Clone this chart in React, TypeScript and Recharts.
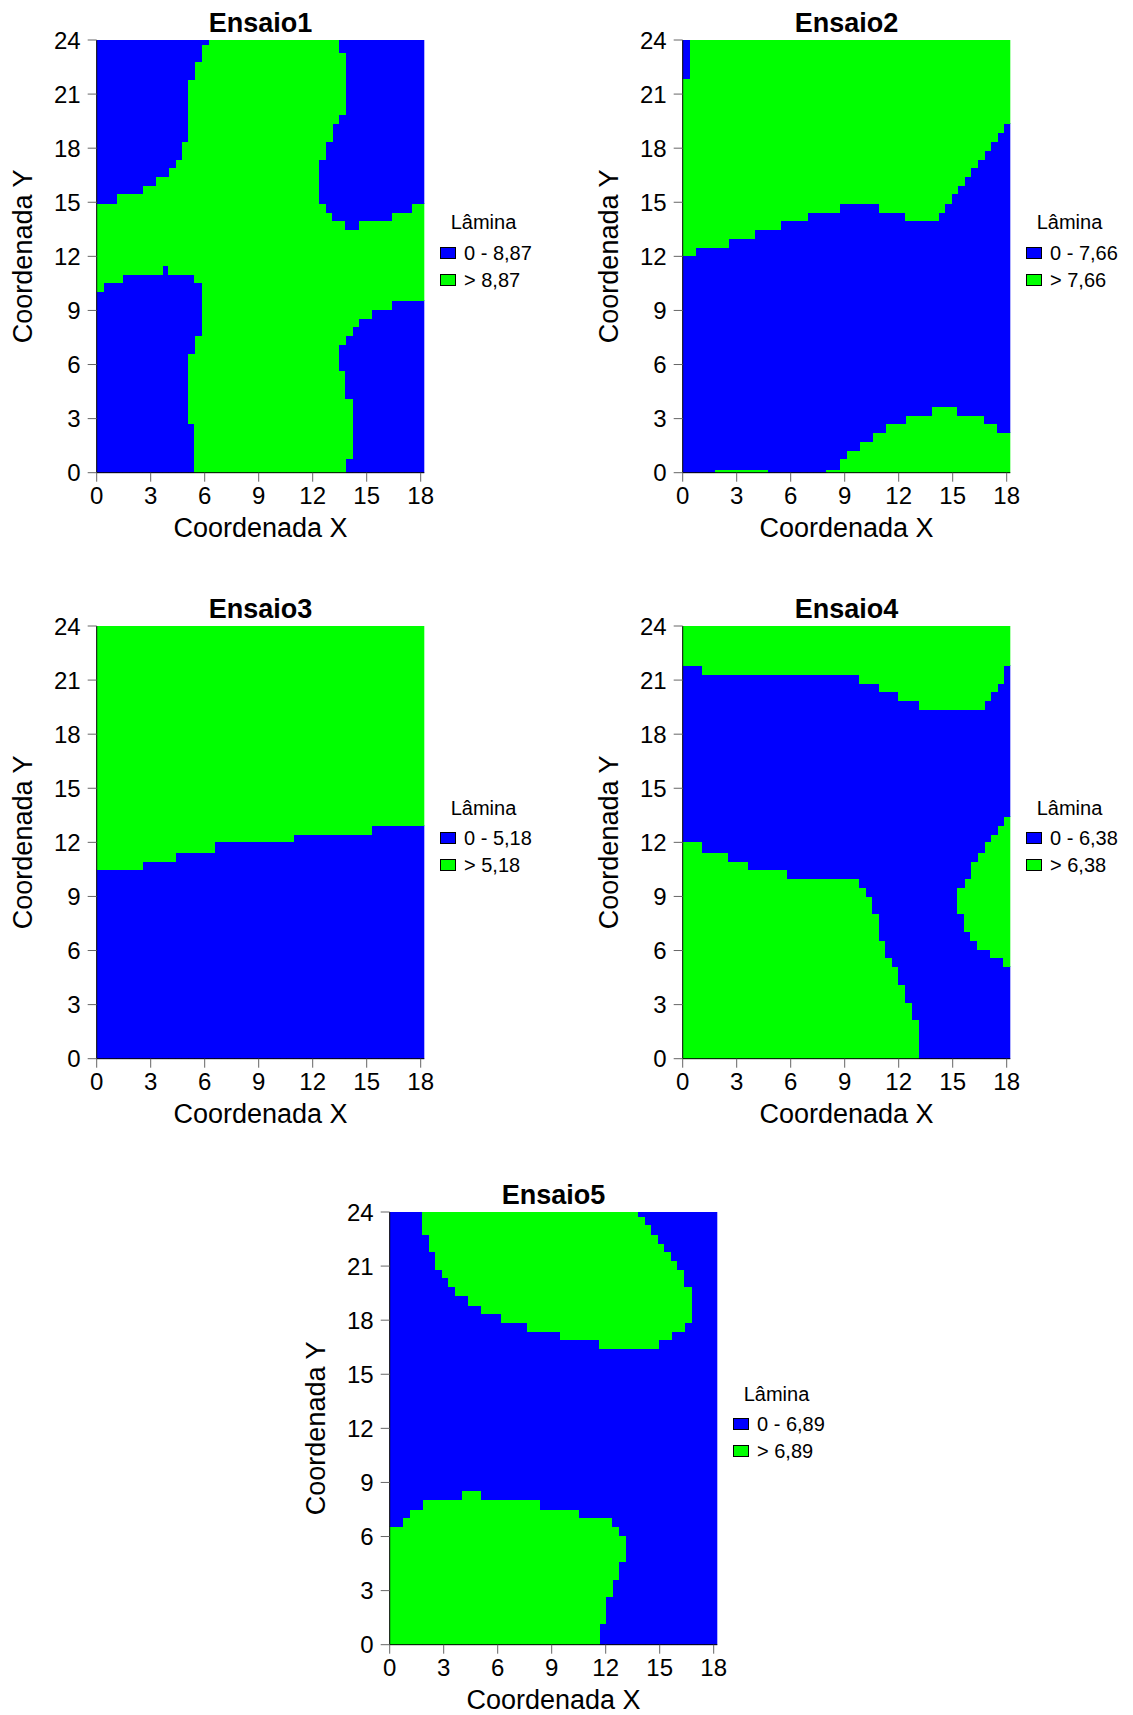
import React from 'react';
import { BarChart, Bar, XAxis, YAxis } from 'recharts';

const BLUE = '#0000ff';
const GREEN = '#00ff00';
const FONT = '"Liberation Sans", Arial, Helvetica, sans-serif';

const CELL = 0.364; // width of one raster column, in X units (50 columns span 0 - 18.2)
const X_TICKS = [0, 3, 6, 9, 12, 15, 18];
const Y_TICKS = [0, 3, 6, 9, 12, 15, 18, 21, 24];

const TITLES = ['Ensaio1', 'Ensaio2', 'Ensaio3', 'Ensaio4', 'Ensaio5'];
const LIMITS = ['8,87', '7,66', '5,18', '6,38', '6,89'];

// one entry per column: Y values where the class flips, starting with blue at Y = 0
const ensaio1 = [
  [10.06, 14.93], [10.54, 14.93], [10.54, 14.93], [10.54, 15.46], [11.02, 15.46],
  [11.02, 15.46], [11.02, 15.46], [11.02, 15.93], [11.02, 15.93], [11.02, 16.41],
  [11.5, 16.41], [11.02, 16.91], [11.02, 17.37], [11.02, 18.37], [2.74, 6.59, 11.02, 21.81],
  [0, 7.59, 10.54, 22.78], [0, 23.76], [0], [0], [0],
  [0], [0], [0], [0], [0],
  [0], [0], [0], [0], [0],
  [0], [0], [0], [0], [0, 14.93, 17.37],
  [0, 14.44, 18.37], [0, 13.98, 19.37], [0, 5.65, 7.09, 13.98, 19.87, 23.3], [0.76, 4.13, 7.59, 13.48], [8.09, 13.48],
  [8.57, 13.98], [8.57, 13.98], [9.04, 13.98], [9.04, 13.98], [9.04, 13.98],
  [9.56, 14.44], [9.56, 14.44], [9.56, 14.44], [9.56, 14.93], [9.56, 14.93],
];

const ensaio2 = [
  [12.04, 21.85], [12.04], [12.48], [12.48], [12.48],
  [0, 0.2, 12.48], [0, 0.2, 12.48], [0, 0.2, 12.98], [0, 0.2, 12.98], [0, 0.2, 12.98],
  [0, 0.2, 12.98], [0, 0.2, 13.48], [0, 0.2, 13.48], [13.48], [13.48],
  [13.98], [13.98], [13.98], [13.98], [14.43],
  [14.43], [14.43], [0, 0.2, 14.43], [0, 0.2, 14.43], [0, 0.76, 14.93],
  [0, 1.22, 14.93], [0, 1.22, 14.93], [0, 1.72, 14.93], [0, 1.72, 14.93], [0, 2.22, 14.93],
  [0, 2.22, 14.43], [0, 2.72, 14.43], [0, 2.72, 14.43], [0, 2.72, 14.43], [0, 3.17, 13.98],
  [0, 3.17, 13.98], [0, 3.17, 13.98], [0, 3.17, 13.98], [0, 3.65, 13.98], [0, 3.65, 14.43],
  [0, 3.65, 14.93], [0, 3.65, 15.46], [0, 3.17, 15.93], [0, 3.17, 16.41], [0, 3.17, 16.91],
  [0, 3.17, 17.37], [0, 2.72, 17.87], [0, 2.72, 18.37], [0, 2.22, 18.87], [0, 2.22, 19.37],
];

const ensaio3 = [
  [10.52], [10.52], [10.52], [10.52], [10.52],
  [10.52], [10.52], [10.96], [10.96], [10.96],
  [10.96], [10.96], [11.46], [11.46], [11.46],
  [11.46], [11.46], [11.46], [12.02], [12.02],
  [12.02], [12.02], [12.02], [12.02], [12.02],
  [12.02], [12.02], [12.02], [12.02], [12.02],
  [12.46], [12.46], [12.46], [12.46], [12.46],
  [12.46], [12.46], [12.46], [12.46], [12.46],
  [12.46], [12.46], [12.96], [12.96], [12.96],
  [12.96], [12.96], [12.96], [12.96], [12.96],
];

const ensaio4 = [
  [0, 12.02, 21.81], [0, 12.02, 21.81], [0, 12.02, 21.81], [0, 11.46, 21.3], [0, 11.46, 21.3],
  [0, 11.46, 21.3], [0, 11.46, 21.3], [0, 10.96, 21.3], [0, 10.96, 21.3], [0, 10.96, 21.3],
  [0, 10.52, 21.3], [0, 10.52, 21.3], [0, 10.52, 21.3], [0, 10.52, 21.3], [0, 10.52, 21.3],
  [0, 10.52, 21.3], [0, 10.02, 21.3], [0, 10.02, 21.3], [0, 10.02, 21.3], [0, 10.02, 21.3],
  [0, 10.02, 21.3], [0, 10.02, 21.3], [0, 10.02, 21.3], [0, 10.02, 21.3], [0, 10.02, 21.3],
  [0, 10.02, 21.3], [0, 10.02, 21.3], [0, 9.52, 20.8], [0, 9.02, 20.8], [0, 8.06, 20.8],
  [0, 6.57, 20.37], [0, 5.61, 20.37], [0, 5.13, 20.37], [0, 4.13, 19.87], [0, 3.13, 19.87],
  [0, 2.19, 19.87], [19.37], [19.37], [19.37], [19.37],
  [19.37], [19.37], [8.06, 9.52, 19.37], [7.07, 10.02, 19.37], [6.57, 10.96, 19.37],
  [6.07, 11.46, 19.37], [6.07, 12.02, 19.87], [5.61, 12.46, 20.37], [5.61, 12.96, 20.8], [5.13, 13.46, 21.81],
];

const ensaio5 = [
  [0, 6.57], [0, 6.57], [0, 7.07], [0, 7.52], [0, 7.52],
  [0, 8.06, 22.74], [0, 8.06, 21.8], [0, 8.06, 20.8], [0, 8.06, 20.37], [0, 8.06, 19.87],
  [0, 8.06, 19.37], [0, 8.57, 19.37], [0, 8.57, 18.83], [0, 8.57, 18.83], [0, 8.06, 18.35],
  [0, 8.06, 18.35], [0, 8.06, 18.35], [0, 8.06, 17.85], [0, 8.06, 17.85], [0, 8.06, 17.85],
  [0, 8.06, 17.85], [0, 8.06, 17.35], [0, 8.06, 17.35], [0, 7.52, 17.35], [0, 7.52, 17.35],
  [0, 7.52, 17.35], [0, 7.52, 16.91], [0, 7.52, 16.91], [0, 7.52, 16.91], [0, 7.07, 16.91],
  [0, 7.07, 16.91], [0, 7.07, 16.91], [1.19, 7.07, 16.41], [2.7, 7.07, 16.41], [3.63, 6.57, 16.41],
  [4.63, 6.07, 16.41], [16.41], [16.41], [16.41, 23.74], [16.41, 23.3],
  [16.41, 22.74], [16.91, 22.26], [16.91, 21.8], [17.35, 21.3], [17.35, 20.8],
  [17.85, 19.87], [], [], [], [],
];

const MAPS = [ensaio1, ensaio2, ensaio3, ensaio4, ensaio5];

// layout (pixels)
const PANEL_POS = [
  { left: 0, top: 0 },
  { left: 586, top: 0 },
  { left: 0, top: 585.7 },
  { left: 586, top: 585.7 },
  { left: 293, top: 1171.7 },
];
const SEGS = ['s0', 's1', 's2', 's3', 's4', 's5', 's6'];

const toRows = (cols: number[][]) =>
  cols.map((flips, i) => {
    const edges = [0, ...flips, 24];
    const row: { [key: string]: number } = { x: +((i + 0.5) * CELL).toFixed(3) };
    SEGS.forEach((k, j) => {
      row[k] = j < edges.length - 1 ? +(edges[j + 1] - edges[j]).toFixed(3) : 0;
    });
    return row;
  });

const Panel: React.FC<{ idx: number }> = ({ idx }) => {
  const pos = PANEL_POS[idx];
  const data = toRows(MAPS[idx]);
  return (
    <div style={{ position: 'absolute', left: pos.left, top: pos.top, width: 560, height: 553 }}>
      <div
        style={{
          position: 'absolute', left: 96.7, top: 10, width: 327.6, textAlign: 'center',
          fontSize: 27, lineHeight: '27px', fontWeight: 'bold', fontFamily: FONT, color: '#000',
        }}
      >
        {TITLES[idx]}
      </div>
      <BarChart
        width={560}
        height={553}
        data={data}
        margin={{ top: 40, right: 135.7, bottom: 0.3, left: 0 }}
        barCategoryGap={0}
        barGap={0}
        barSize={6.5}
      >
        <XAxis
          dataKey="x"
          type="number"
          domain={[0, 18.2]}
          allowDataOverflow
          ticks={X_TICKS}
          interval={0}
          height={80}
          tickSize={9}
          tickMargin={5}
          axisLine={{ stroke: '#000' }}
          tickLine={{ stroke: '#666' }}
          tick={{ fontSize: 24, fill: '#000', fontFamily: FONT }}
          label={{ value: 'Coordenada X', position: 'insideBottom', offset: 15.4, fontSize: 27, fill: '#000', fontFamily: FONT }}
        />
        <YAxis
          type="number"
          domain={[0, 24]}
          allowDataOverflow
          ticks={Y_TICKS}
          interval={0}
          width={96.7}
          tickSize={9}
          tickMargin={7}
          axisLine={{ stroke: '#000' }}
          tickLine={{ stroke: '#666' }}
          tick={{ fontSize: 24, fill: '#000', fontFamily: FONT }}
          label={{
            value: 'Coordenada Y', angle: -90, position: 'insideLeft', offset: 22,
            fontSize: 27, fill: '#000', fontFamily: FONT, style: { textAnchor: 'middle' },
          }}
        />
        {SEGS.map((k, j) => {
          const c = j % 2 === 0 ? BLUE : GREEN;
          return (
            <Bar
              key={k}
              dataKey={k}
              stackId="m"
              fill={c}
              stroke={c}
              strokeWidth={1}
              shapeRendering="crispEdges"
              isAnimationActive={false}
            />
          );
        })}
      </BarChart>
      <div style={{ position: 'absolute', left: 440, top: 212, fontFamily: FONT, fontSize: 20, color: '#000' }}>
        <div style={{ marginLeft: 10.7, lineHeight: '20px' }}>Lâmina</div>
        {[BLUE, GREEN].map((c, j) => (
          <div key={j} style={{ display: 'flex', alignItems: 'center', height: 27, marginTop: j === 0 ? 7 : 0, lineHeight: '20px' }}>
            <span style={{ width: 14, height: 10, background: c, border: '1px solid #000', display: 'inline-block', marginRight: 8 }} />
            <span>{j === 0 ? `0 - ${LIMITS[idx]}` : `> ${LIMITS[idx]}`}</span>
          </div>
        ))}
      </div>
    </div>
  );
};

export default function App() {
  return (
    <div style={{ position: 'absolute', left: 0, top: 0, width: 1133, height: 1715, background: '#fff' }}>
      {TITLES.map((t, i) => (
        <Panel key={t} idx={i} />
      ))}
    </div>
  );
}
